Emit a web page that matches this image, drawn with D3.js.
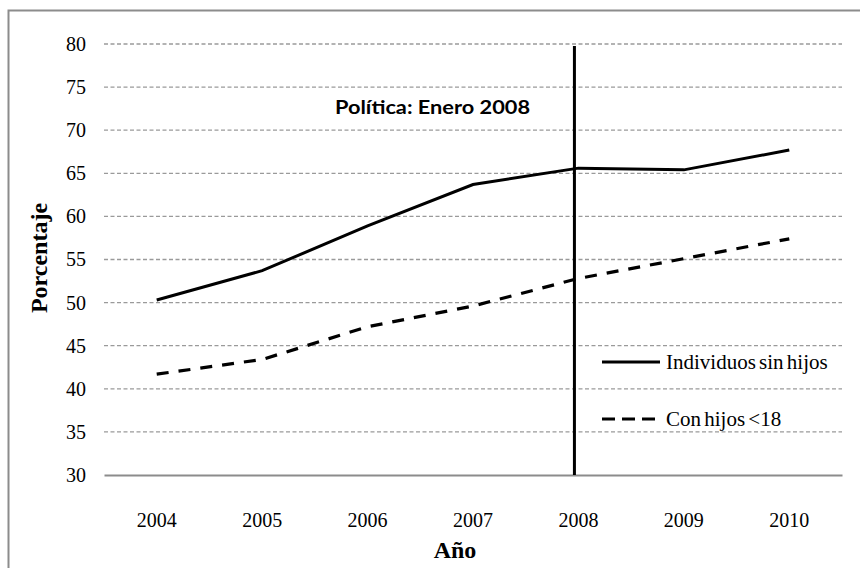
<!DOCTYPE html>
<html>
<head>
<meta charset="utf-8">
<script src="https://cdn.jsdelivr.net/npm/d3@7/dist/d3.min.js"></script>
<style>
  html, body { margin: 0; padding: 0; background: #fff; }
  svg { display: block; }
</style>
</head>
<body>
<svg id="chart" width="860" height="568"></svg>
<script>
// Years on the horizontal axis
const years = ["2004", "2005", "2006", "2007", "2008", "2009", "2010"];
// Percentage series
const sinHijos = [50.3, 53.7, 58.9, 63.7, 65.6, 65.4, 67.7];
const conHijos = [41.7, 43.4, 47.2, 49.6, 52.8, 55.1, 57.4];
const seriesNames = ["Individuos sin hijos", "Con hijos <18"];
// Y ticks
const yTicks = [30, 35, 40, 45, 50, 55, 60, 65, 70, 75, 80];
const policyYear = "2008";
const policyLabel = "Política: Enero 2008";

const svg = d3.select("#chart");
const serif = "'Liberation Serif', 'Times New Roman', serif";

// Outer frame
svg.append("rect")
  .attr("x", 8.5).attr("y", 10.5)
  .attr("width", 900).attr("height", 600)
  .attr("fill", "none").attr("stroke", "#8c8c8c").attr("stroke-width", 2);

const plotLeft = 104, plotRight = 842, plotTop = 44, plotBottom = 475;

const x = d3.scaleBand().domain(years).range([plotLeft, plotRight]);
const xc = d => x(d) + x.bandwidth() / 2;
const y = d3.scaleLinear().domain([30, 80]).range([plotBottom, plotTop]);

// Horizontal gridlines
svg.append("g").selectAll("line")
  .data(yTicks.filter(t => t > 30))
  .join("line")
  .attr("x1", plotLeft).attr("x2", plotRight)
  .attr("y1", d => y(d)).attr("y2", d => y(d))
  .attr("stroke", "#9a9a9a").attr("stroke-width", 1.3)
  .attr("stroke-dasharray", "4,2.5");

// Y axis tick labels
const yAxis = d3.axisLeft(y).tickValues(yTicks).tickSize(0).tickPadding(0);
const gy = svg.append("g").attr("transform", `translate(${plotLeft - 18},0)`).call(yAxis);
gy.select(".domain").remove();
gy.selectAll("text")
  .attr("font-family", serif).attr("font-size", 20).attr("fill", "#000");

// X axis
const xAxis = d3.axisBottom(x).tickSize(0).tickPadding(0);
const gx = svg.append("g").attr("transform", `translate(0,${plotBottom})`).call(xAxis);
gx.select(".domain").attr("stroke", "#8c8c8c").attr("stroke-width", 2);
gx.selectAll("text")
  .attr("font-family", serif).attr("font-size", 20).attr("fill", "#000")
  .attr("dy", "0").attr("y", 52);

// Axis titles
svg.append("text")
  .attr("x", 455).attr("y", 558)
  .attr("text-anchor", "middle")
  .attr("font-family", serif).attr("font-size", 24).attr("font-weight", "bold")
  .text("Año");
svg.append("text")
  .attr("transform", "translate(47,258) rotate(-90)")
  .attr("text-anchor", "middle")
  .attr("font-family", serif).attr("font-size", 24).attr("font-weight", "bold")
  .text("Porcentaje");

// Series lines
const line = d3.line().x((d, i) => xc(years[i])).y(d => y(d));
svg.append("path").datum(sinHijos)
  .attr("d", line).attr("fill", "none")
  .attr("stroke", "#000").attr("stroke-width", 3);
svg.append("path").datum(conHijos)
  .attr("d", line).attr("fill", "none")
  .attr("stroke", "#000").attr("stroke-width", 3.2)
  .attr("stroke-dasharray", "12,10");

// Policy marker
const px = xc(policyYear) - 4;
svg.append("line")
  .attr("x1", px).attr("x2", px)
  .attr("y1", plotTop + 2).attr("y2", plotBottom)
  .attr("stroke", "#000").attr("stroke-width", 3);
svg.append("text")
  .attr("x", 335).attr("y", 114)
  .attr("font-family", "Lato, 'Open Sans', sans-serif")
  .attr("font-size", 19).attr("font-weight", "bold")
  .attr("textLength", 195).attr("lengthAdjust", "spacingAndGlyphs")
  .text(policyLabel);

// Legend
const legend = svg.append("g");
const legendRows = [
  { name: seriesNames[0], y: 362, dash: null },
  { name: seriesNames[1], y: 419, dash: "13,7" }
];
legendRows.forEach(r => {
  legend.append("line")
    .attr("x1", 602).attr("x2", 660)
    .attr("y1", r.y).attr("y2", r.y)
    .attr("stroke", "#000").attr("stroke-width", 3)
    .attr("stroke-dasharray", r.dash);
  legend.append("text")
    .attr("x", 666).attr("y", r.y + 7)
    .attr("font-family", serif).attr("font-size", 21)
    .attr("word-spacing", "-2")
    .text(r.name);
});
</script>
</body>
</html>
